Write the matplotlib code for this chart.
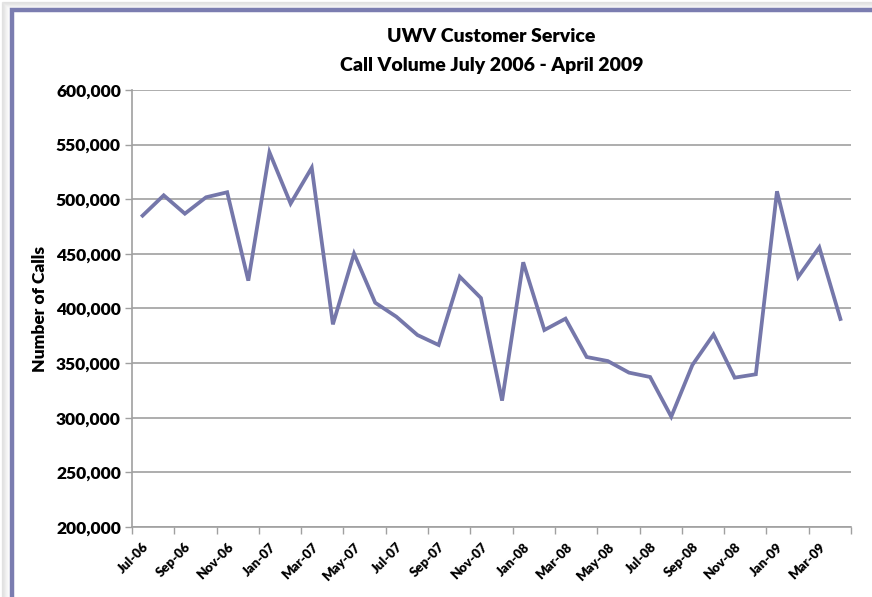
import matplotlib.pyplot as plt
from matplotlib.patches import Rectangle
from matplotlib.ticker import FuncFormatter, FixedLocator

months = ['Jul-06', 'Aug-06', 'Sep-06', 'Oct-06', 'Nov-06', 'Dec-06',
          'Jan-07', 'Feb-07', 'Mar-07', 'Apr-07', 'May-07', 'Jun-07',
          'Jul-07', 'Aug-07', 'Sep-07', 'Oct-07', 'Nov-07', 'Dec-07',
          'Jan-08', 'Feb-08', 'Mar-08', 'Apr-08', 'May-08', 'Jun-08',
          'Jul-08', 'Aug-08', 'Sep-08', 'Oct-08', 'Nov-08', 'Dec-08',
          'Jan-09', 'Feb-09', 'Mar-09', 'Apr-09']
calls = [485000, 503600, 486800, 501800, 506400, 425500,
         543000, 496000, 528900, 385500, 450200, 405300,
         392500, 375700, 366600, 429100, 409600, 315700,
         442300, 380300, 390700, 355600, 351900, 341300,
         337300, 301000, 348300, 376200, 336700, 339800,
         507300, 428800, 456000, 390400]

plt.rcParams['font.family'] = ['Lato', 'DejaVu Sans']
plt.rcParams['font.weight'] = 'bold'

W, H = 872, 597
fig = plt.figure(figsize=(W / 100, H / 100), dpi=100, facecolor='white')

# soft shadow + frame around the chart area
for i, a in enumerate([0.015, 0.025, 0.035, 0.05, 0.065, 0.08, 0.1]):
    off = 8 - i
    fig.patches.append(Rectangle((off / W, -0.1), 1.2, 1.1 - off / H,
                                 transform=fig.transFigure, facecolor='none',
                                 edgecolor='black', alpha=a, lw=1.0, zorder=-2))
fig.patches.append(Rectangle((12 / W, -0.1), 1.2, 1.1 - 10 / H,
                             transform=fig.transFigure, facecolor='white',
                             edgecolor='#7B7DB0', lw=3.2, zorder=-1))

ax = fig.add_axes([132 / W, 1 - 527 / H, (851 - 132) / W, (527 - 90) / H])
ax.set_zorder(2)
ax.patch.set_alpha(0)
x = list(range(len(months)))
ax.plot(x, calls, color='#7577AA', lw=2.7, solid_joinstyle='miter', zorder=3)

ax.set_ylim(200000, 600000)
ax.set_xlim(-0.5, len(months) - 0.5)
ax.set_yticks(range(200000, 600001, 50000))
ax.yaxis.set_major_formatter(FuncFormatter(lambda v, p: f'{int(v):,}'))
ax.grid(axis='y', color='#A0A0A0', lw=1.2)
ax.set_axisbelow(True)

ax.set_xticks(x[::2])
ax.set_xticklabels(months[::2], rotation=45, ha='right', rotation_mode='anchor',
                   fontsize=9.5, fontweight='heavy')
ax.xaxis.set_minor_locator(FixedLocator([i - 0.5 for i in range(0, len(months) + 1, 2)]))
ax.tick_params(axis='x', which='major', length=0, pad=10)
ax.tick_params(axis='x', which='minor', length=5, color='#A0A0A0', width=1)
ax.tick_params(axis='y', length=5, color='#A0A0A0', width=1, labelsize=12.5, pad=3)
plt.setp(ax.get_yticklabels(), fontweight='heavy')

for s in ['top', 'right']:
    ax.spines[s].set_visible(False)
for s in ['left', 'bottom']:
    ax.spines[s].set_color('#A0A0A0')
    ax.spines[s].set_linewidth(1.2)

ax.set_ylabel('Number of Calls', fontsize=12.5, fontweight='heavy', labelpad=6)
fig.text((132 + 851) / 2 / W, 1 - 37 / H, 'UWV Customer Service', ha='center',
         va='center', fontsize=14, fontweight='heavy', zorder=3)
fig.text((132 + 851) / 2 / W, 1 - 65 / H, 'Call Volume July 2006 - April 2009',
         ha='center', va='center', fontsize=14, fontweight='heavy', zorder=3)

fig.savefig('out.png', dpi=100)
